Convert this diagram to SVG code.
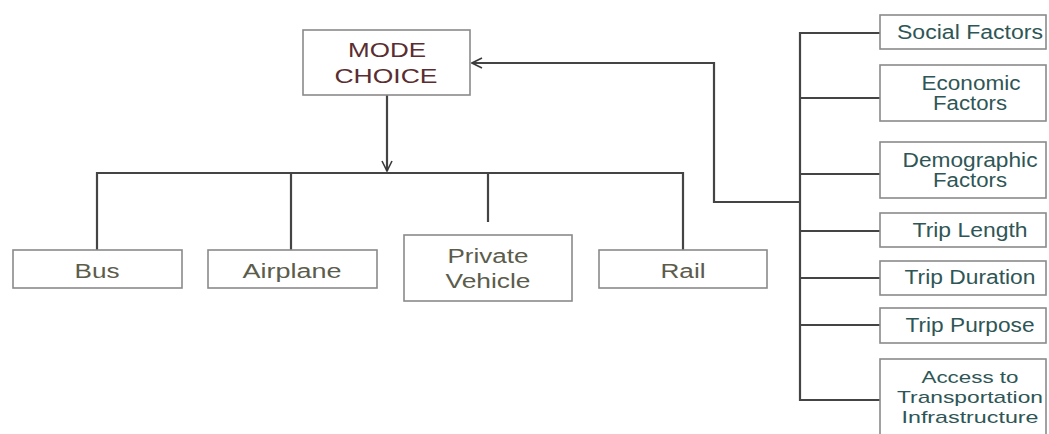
<svg xmlns="http://www.w3.org/2000/svg" width="1049" height="434" viewBox="0 0 1049 434">
<defs>
<marker id="arr" viewBox="0 0 12 12" refX="11" refY="6" markerWidth="12" markerHeight="12" markerUnits="userSpaceOnUse" orient="auto">
<path d="M1,1 L11,6 L1,11" fill="none" stroke="#3a3a3a" stroke-width="1.6"/>
</marker>
</defs>
<style>
.box{fill:#fff;stroke:#8a8a8a;stroke-width:1.6}
.ln{fill:none;stroke:#444;stroke-width:2.2}
text{font-family:"Liberation Sans",Arial,sans-serif;font-size:20px;text-anchor:middle}
.mc{fill:#5a2d30}
.md{fill:#5c5c4c}
.fc{fill:#2f5656}
.sm{font-size:17px}
</style>
<rect width="1049" height="434" fill="#fff"/>
<g id="connectors">
<path class="ln" d="M387,95 V171" marker-end="url(#arr)"/>
<path class="ln" d="M97,250 V173 H683 V250"/>
<path class="ln" d="M291,173 V250"/>
<path class="ln" d="M488,173 V222"/>
<path class="ln" d="M800,202 H714 V63 H472" marker-end="url(#arr)"/>
<path class="ln" d="M880,33 H800 V400 H880"/>
<path class="ln" d="M800,98 H880 M800,174 H880 M800,231 H880 M800,278 H880 M800,325 H880"/>
</g>
<g id="mode-choice">
<rect class="box" x="303" y="30" width="167" height="65"/>
<text class="mc" x="387" y="57" textLength="78" lengthAdjust="spacingAndGlyphs">MODE</text>
<text class="mc" x="386" y="83" textLength="103" lengthAdjust="spacingAndGlyphs">CHOICE</text>
</g>
<g id="bus">
<rect class="box" x="13" y="250" width="169" height="38"/>
<text class="md" x="97" y="278" textLength="45" lengthAdjust="spacingAndGlyphs">Bus</text>
</g>
<g id="airplane">
<rect class="box" x="208" y="250" width="169" height="38"/>
<text class="md" x="292" y="278" textLength="99" lengthAdjust="spacingAndGlyphs">Airplane</text>
</g>
<g id="private-vehicle">
<rect class="box" x="404" y="235" width="168" height="66"/>
<text class="md" x="488" y="263" textLength="81" lengthAdjust="spacingAndGlyphs">Private</text>
<text class="md" x="488" y="288" textLength="85" lengthAdjust="spacingAndGlyphs">Vehicle</text>
</g>
<g id="rail">
<rect class="box" x="599" y="250" width="168" height="38"/>
<text class="md" x="683" y="278" textLength="45" lengthAdjust="spacingAndGlyphs">Rail</text>
</g>
<g id="social-factors">
<rect class="box" x="880" y="15" width="166" height="34"/>
<text class="fc" x="970" y="39" textLength="146" lengthAdjust="spacingAndGlyphs">Social Factors</text>
</g>
<g id="economic-factors">
<rect class="box" x="880" y="65" width="166" height="56"/>
<text class="fc" x="971" y="90" textLength="99" lengthAdjust="spacingAndGlyphs">Economic</text>
<text class="fc" x="970" y="110" textLength="74" lengthAdjust="spacingAndGlyphs">Factors</text>
</g>
<g id="demographic-factors">
<rect class="box" x="880" y="142" width="166" height="56"/>
<text class="fc" x="970" y="167" textLength="135" lengthAdjust="spacingAndGlyphs">Demographic</text>
<text class="fc" x="970" y="187" textLength="74" lengthAdjust="spacingAndGlyphs">Factors</text>
</g>
<g id="trip-length">
<rect class="box" x="880" y="213" width="166" height="34"/>
<text class="fc" x="970" y="237" textLength="115" lengthAdjust="spacingAndGlyphs">Trip Length</text>
</g>
<g id="trip-duration">
<rect class="box" x="880" y="261" width="166" height="34"/>
<text class="fc" x="970" y="284" textLength="131" lengthAdjust="spacingAndGlyphs">Trip Duration</text>
</g>
<g id="trip-purpose">
<rect class="box" x="880" y="308" width="166" height="35"/>
<text class="fc" x="970" y="332" textLength="129" lengthAdjust="spacingAndGlyphs">Trip Purpose</text>
</g>
<g id="access">
<rect class="box" x="880" y="359" width="166" height="80"/>
<text class="fc sm" x="970" y="383" textLength="97" lengthAdjust="spacingAndGlyphs">Access to</text>
<text class="fc sm" x="970" y="403" textLength="146" lengthAdjust="spacingAndGlyphs">Transportation</text>
<text class="fc sm" x="970" y="423" textLength="137" lengthAdjust="spacingAndGlyphs">Infrastructure</text>
</g>
</svg>
